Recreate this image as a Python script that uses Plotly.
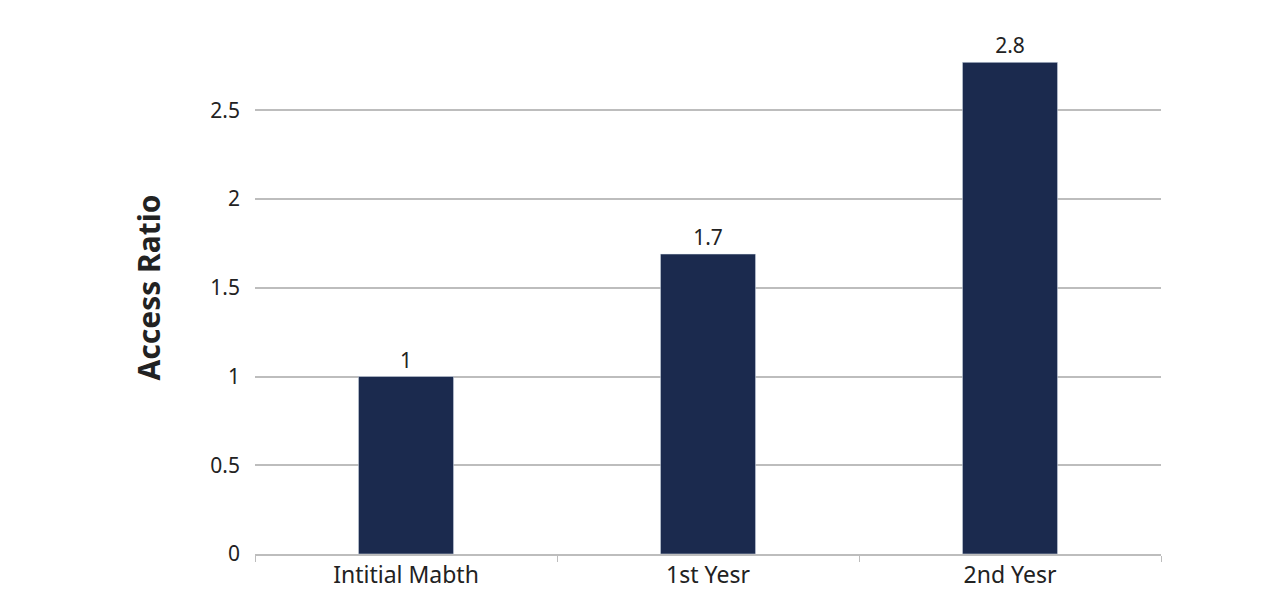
import plotly.graph_objects as go

categories = ["Intitial Mabth", "1st Yesr", "2nd Yesr"]
values = [1.0, 1.69, 2.77]
labels = ["1", "1.7", "2.8"]

fig = go.Figure(go.Bar(
    x=categories, y=values, text=labels, textposition="outside",
    marker_color="#1B2A4E", cliponaxis=False,
    textfont=dict(size=21, color="#222"),
))
fig.update_layout(
    width=1284, height=598, bargap=0.685,
    margin=dict(l=247, r=131, t=13, b=52),
    plot_bgcolor="white", paper_bgcolor="white",
    font=dict(family="Noto Sans", size=21, color="#222"),
    showlegend=False,
)
fig.update_yaxes(range=[0, 3.003], tickvals=[0, 0.5, 1, 1.5, 2, 2.5, 3],
                 gridcolor="#BDBDBD", gridwidth=1.5, automargin=False,
                 zeroline=False, ticks="", ticklabelstandoff=14,
                 title=dict(text="<b>Access Ratio</b>", font=dict(size=30), standoff=40))
fig.update_xaxes(showline=True, linecolor="#BDBDBD", linewidth=1.5, automargin=False,
                 ticks="outside", tickson="boundaries", tickcolor="#BDBDBD", ticklen=6,
                 tickfont=dict(size=23))
fig.write_html("out.html")
